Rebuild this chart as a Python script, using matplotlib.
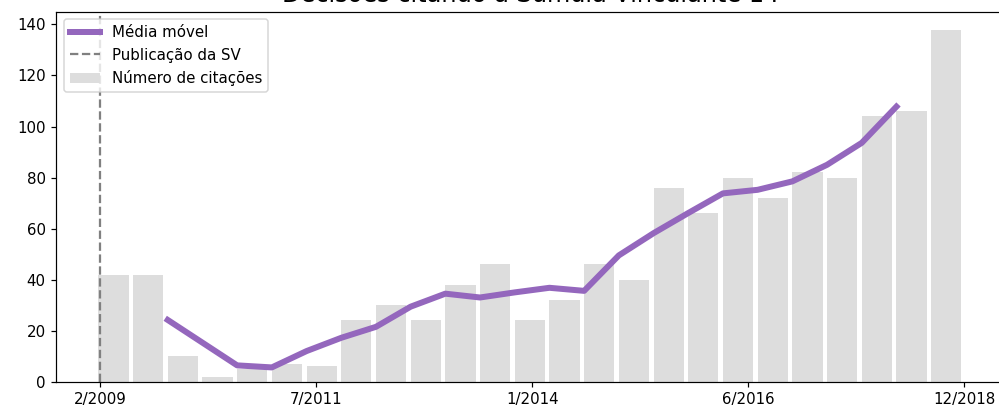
import matplotlib.pyplot as plt
import numpy as np

# numero de citacoes por periodo
citacoes = [42, 42, 10, 2, 5, 7, 6, 24, 30, 24, 38, 46, 24, 32, 46, 40,
            76, 66, 80, 72, 82, 80, 104, 106, 138]
# media movel (comeca no 3o periodo, termina no penultimo)
media_movel = [24.2, 15.3, 6.4, 5.6, 12.0, 17.2, 21.5, 29.4, 34.5, 33.0, 35.0,
               36.8, 35.6, 49.5, 58.2, 66.1, 73.8, 75.2, 78.5, 85.0, 93.6, 107.8]
mm_inicio = 2
tick_labels = ['2/2009', '7/2011', '1/2014', '6/2016', '12/2018']

x = np.arange(len(citacoes))
x_mm = np.arange(mm_inicio, mm_inicio + len(media_movel))

fig = plt.figure(figsize=(999 / 108, 409 / 108), dpi=108)
# a figura original foi recortada: o eixo passa da borda direita
ax = fig.add_axes([56 / 999, 27.3 / 409, 949 / 999, 370 / 409])
ax.spines['right'].set_visible(False)

ax.plot(x_mm, media_movel, color='#9467bd', linewidth=4, label='Média móvel')
ax.axvline(0.06, color='gray', linestyle='--', linewidth=1.5, label='Publicação da SV')
ax.bar(x, citacoes, width=0.87, align='edge', color='#dddddd', label='Número de citações', zorder=1)

ax.set_xticks(np.linspace(0.06, 24.96, len(tick_labels)))
ax.set_xticklabels(tick_labels)
ax.set_xlim(-1.22, -1.22 + 949 / 34.7)
ax.set_ylim(0, 145)
ax.set_title('Decisões citando a Súmula Vinculante 14', fontsize=16, pad=6.5)

ax.legend(loc='upper left')

fig.savefig('out.png', dpi=108)
